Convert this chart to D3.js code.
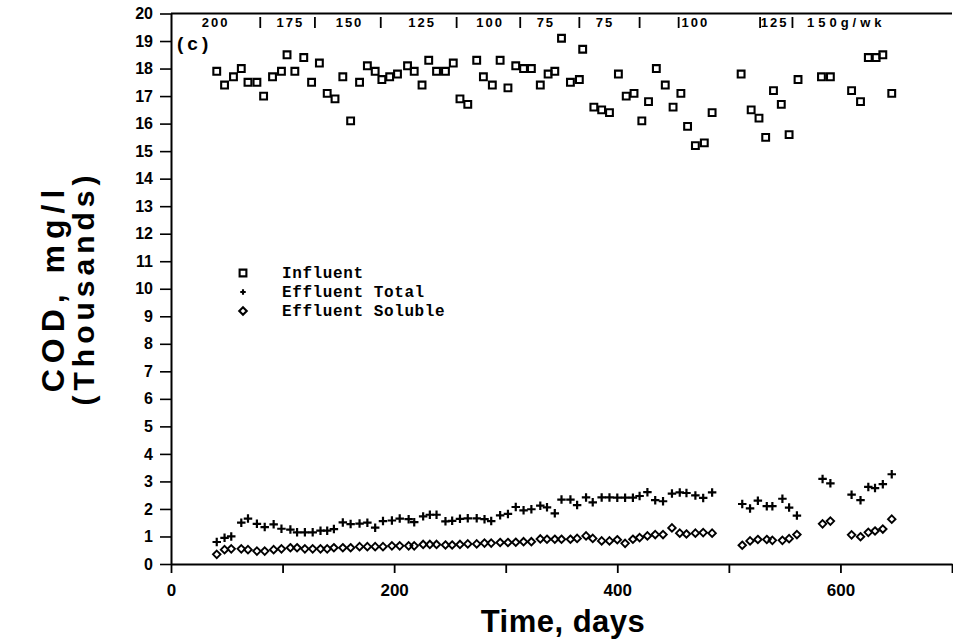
<!DOCTYPE html>
<html><head><meta charset="utf-8">
<script src="https://cdn.jsdelivr.net/npm/d3@7"></script>
<style>body{margin:0;background:#fff;} svg{display:block;}</style>
</head><body>
<svg id="chart" width="953" height="641"></svg>
<script>
// ---------------- data ----------------
const influentDays = [41,48,56,63,69,77,83,91,99,104,111,119,126,133,140,147,154,161,169,176,183,189,196,203,212,218,225,231,238,246,253,259,266,274,280,288,295,302,309,316,323,331,338,344,350,358,366,369,379,386,393,401,408,415,422,428,435,443,450,457,463,470,478,485,511,520,527,533,540,547,554,562,583,591,610,618,625,632,638,646];
const influentCOD = [17.9,17.4,17.7,18.0,17.5,17.5,17.0,17.7,17.9,18.5,17.9,18.4,17.5,18.2,17.1,16.9,17.7,16.1,17.5,18.1,17.9,17.6,17.7,17.8,18.1,17.9,17.4,18.3,17.9,17.9,18.2,16.9,16.7,18.3,17.7,17.4,18.3,17.3,18.1,18.0,18.0,17.4,17.8,17.9,19.1,17.5,17.6,18.7,16.6,16.5,16.4,17.8,17.0,17.1,16.1,16.8,18.0,17.4,16.6,17.1,15.9,15.2,15.3,16.4,17.8,16.5,16.2,15.5,17.2,16.7,15.6,17.6,17.7,17.7,17.2,16.8,18.4,18.4,18.5,17.1];
const effluentDays = [41,48,54,63,69,77,84,92,99,107,113,120,127,134,140,146,154,161,169,176,183,190,198,205,213,218,226,232,238,246,252,259,266,274,281,287,295,302,309,316,323,331,337,344,350,358,364,372,378,386,393,400,407,414,420,427,434,441,449,456,462,470,477,485,512,519,526,534,539,548,554,561,584,591,610,618,625,631,638,646];
const effluentTotal = [0.8,0.95,1.0,1.5,1.65,1.46,1.34,1.44,1.28,1.25,1.15,1.15,1.15,1.21,1.21,1.27,1.51,1.45,1.47,1.5,1.32,1.56,1.58,1.65,1.63,1.52,1.73,1.79,1.79,1.55,1.57,1.64,1.66,1.66,1.63,1.56,1.77,1.82,2.07,1.95,1.99,2.12,2.06,1.84,2.34,2.34,2.14,2.42,2.24,2.42,2.42,2.41,2.41,2.41,2.47,2.61,2.32,2.28,2.56,2.6,2.58,2.49,2.4,2.6,2.18,2.02,2.3,2.1,2.1,2.37,2.05,1.76,3.09,2.93,2.52,2.32,2.8,2.76,2.9,3.26];
const effluentSoluble = [0.35,0.52,0.55,0.55,0.52,0.47,0.47,0.52,0.55,0.59,0.59,0.55,0.55,0.55,0.55,0.59,0.59,0.59,0.63,0.63,0.63,0.63,0.66,0.66,0.66,0.66,0.71,0.71,0.71,0.69,0.69,0.71,0.73,0.73,0.76,0.76,0.78,0.78,0.79,0.81,0.81,0.91,0.9,0.9,0.9,0.9,0.93,1.02,0.93,0.84,0.84,0.88,0.75,0.9,0.96,1.02,1.07,1.07,1.31,1.12,1.09,1.12,1.14,1.12,0.68,0.84,0.89,0.89,0.86,0.86,0.92,1.07,1.46,1.56,1.06,0.99,1.15,1.2,1.27,1.63];

const xTicks = [0,100,200,300,400,500,600,700];
const xTickLabels = ["0","","200","","400","","600",""];
const yTicks = [0,1,2,3,4,5,6,7,8,9,10,11,12,13,14,15,16,17,18,19,20];

const loadingLabels = ["200","175","150","125","100","75","75","100","125","150g/wk"];
const loadingLabelDays = [40,107,160,225,286,336,389,470,541,570];
const loadingChangeDays = [80,129,188,256,313,366,420,455,528,557];

const legendLabels = ["Influent","Effluent Total","Effluent Soluble"];
const panelLabel = "(c)";
const xTitle = "Time, days";
const yTitle1 = "COD, mg/l";
const yTitle2 = "(Thousands)";

// ---------------- drawing ----------------
const svg = d3.select("#chart");
const x = d3.scaleLinear().domain([0,700]).range([171,952]);
const y = d3.scaleLinear().domain([0,20]).range([564,13.5]);
const ink = "#000";
const sans = "'Liberation Sans', Arial, Helvetica, sans-serif";
const mono = "'Liberation Mono', 'DejaVu Sans Mono', monospace";

// symbol types (stroked)
const squareT = {draw(c,s){const r=Math.sqrt(s)/2; c.moveTo(-r,-r); c.lineTo(r,-r); c.lineTo(r,r); c.lineTo(-r,r); c.closePath();}};
const plusT = {draw(c,s){const r=Math.sqrt(s)/2; c.moveTo(-r,0); c.lineTo(r,0); c.moveTo(0,-r); c.lineTo(0,r);}};
const diamondT = {draw(c,s){const r=Math.sqrt(s)/2; c.moveTo(0,-r); c.lineTo(r,0); c.lineTo(0,r); c.lineTo(-r,0); c.closePath();}};
const symSquare = d3.symbol().type(squareT).size(46);
const symPlus = d3.symbol().type(plusT).size(72);
const symDiamond = d3.symbol().type(diamondT).size(56);

// y axis
const gy = svg.append("g").attr("transform",`translate(${x(0)},0)`)
  .call(d3.axisLeft(y).tickValues(yTicks).tickSize(11).tickSizeOuter(0).tickPadding(7).tickFormat(d3.format("d")));
gy.select(".domain").attr("stroke",ink).attr("stroke-width",2);
gy.selectAll(".tick line").attr("stroke",ink).attr("stroke-width",1.6);
gy.selectAll(".tick text").attr("font-family",sans).attr("font-weight","bold").attr("font-size",16).attr("fill",ink);

// x axis
const gx = svg.append("g").attr("transform",`translate(0,${y(0)})`)
  .call(d3.axisBottom(x).tickValues(xTicks).tickSize(9).tickSizeOuter(0).tickPadding(11).tickFormat((d,i)=>xTickLabels[i]));
gx.select(".domain").attr("stroke",ink).attr("stroke-width",2);
gx.selectAll(".tick line").attr("stroke",ink).attr("stroke-width",1.8);
gx.selectAll(".tick text").attr("font-family",sans).attr("font-weight","bold").attr("font-size",17).attr("fill",ink);

// top frame line
svg.append("line").attr("x1",x(0)).attr("x2",x(700)).attr("y1",y(20)).attr("y2",y(20))
  .attr("stroke",ink).attr("stroke-width",2);

// loading annotations along the top
svg.append("g").selectAll("text").data(loadingLabels).join("text")
  .attr("x",(d,i)=>x(loadingLabelDays[i]))
  .attr("y",27)
  .attr("text-anchor",(d,i)=> i===loadingLabels.length-1 ? "start" : "middle")
  .attr("font-family",sans).attr("font-weight","bold").attr("font-size",13)
  .attr("letter-spacing",(d,i)=> i===loadingLabels.length-1 ? 4 : 2).attr("fill",ink).text(d=>d);
svg.append("g").selectAll("line").data(loadingChangeDays).join("line")
  .attr("x1",d=>x(d)).attr("x2",d=>x(d)).attr("y1",17).attr("y2",28)
  .attr("stroke",ink).attr("stroke-width",1.8);

// panel label
svg.append("text").attr("x",177).attr("y",50).attr("font-family",sans).attr("font-weight","bold")
  .attr("font-size",19).attr("letter-spacing",4).attr("fill",ink).text(panelLabel);

// series
svg.append("g").selectAll("path").data(influentDays).join("path")
  .attr("transform",(d,i)=>`translate(${x(d)},${y(influentCOD[i])})`)
  .attr("d",symSquare).attr("fill","none").attr("stroke",ink).attr("stroke-width",2.1);
svg.append("g").selectAll("path").data(effluentDays).join("path")
  .attr("transform",(d,i)=>`translate(${x(d)},${y(effluentTotal[i])})`)
  .attr("d",symPlus).attr("fill","none").attr("stroke",ink).attr("stroke-width",2.2);
svg.append("g").selectAll("path").data(effluentDays).join("path")
  .attr("transform",(d,i)=>`translate(${x(d)},${y(effluentSoluble[i])})`)
  .attr("d",symDiamond).attr("fill","none").attr("stroke",ink).attr("stroke-width",1.9);

// legend
const legendSyms = [symSquare, d3.symbol().type(plusT).size(30), symDiamond];
const lg = svg.append("g").attr("transform","translate(243,273)");
legendLabels.forEach((lab,i)=>{
  const row = lg.append("g").attr("transform",`translate(0,${i*19})`);
  row.append("path").attr("d",legendSyms[i]).attr("fill","none").attr("stroke",ink).attr("stroke-width",2.1);
  row.append("text").attr("x",39).attr("y",5).attr("font-family",mono).attr("font-weight","bold")
    .attr("font-size",16).attr("letter-spacing",0.6).attr("fill",ink).text(lab);
});

// axis titles
svg.append("text").attr("x",563).attr("y",632).attr("text-anchor","middle")
  .attr("font-family",sans).attr("font-weight","bold").attr("font-size",31).attr("letter-spacing",0.5)
  .attr("fill",ink).text(xTitle);
svg.append("text").attr("transform","translate(64,288) rotate(-90)").attr("text-anchor","middle")
  .attr("font-family",sans).attr("font-weight","bold").attr("font-size",32).attr("letter-spacing",6)
  .attr("fill",ink).text(yTitle1);
svg.append("text").attr("transform","translate(94,288) rotate(-90)").attr("text-anchor","middle")
  .attr("font-family",sans).attr("font-weight","bold").attr("font-size",30).attr("letter-spacing",5)
  .attr("fill",ink).text(yTitle2);
</script>
</body></html>
